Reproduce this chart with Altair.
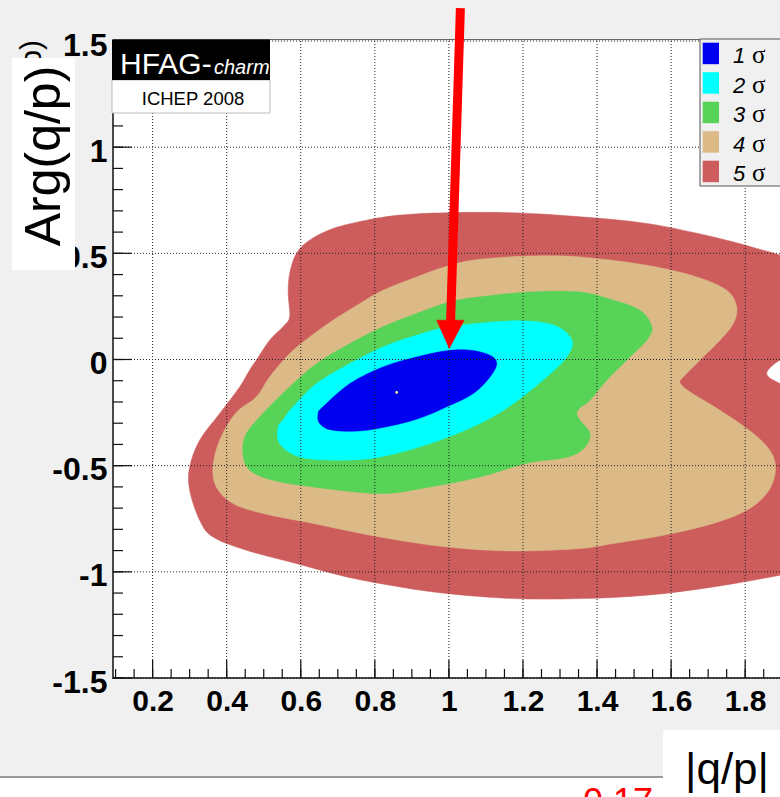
import altair as alt
import pandas as pd

# ---------------- data ----------------
# confidence-region contours (|q/p|, Arg(q/p)), outermost first
s5_x = [0.570, 0.566, 0.570, 0.588, 0.624, 0.687, 0.778, 0.868, 0.994, 1.174, 1.354, 1.534, 1.714, 1.848,
        1.894, 1.948, 1.975, 1.948, 1.894, 1.858, 1.894, 1.948, 1.975, 1.948, 1.894, 1.714, 1.534, 1.354,
        1.174, 0.994, 0.868, 0.724, 0.588, 0.453, 0.363, 0.327, 0.300, 0.300, 0.327, 0.381, 0.435, 0.462,
        0.480, 0.516, 0.552]
s5_y = [0.201, 0.311, 0.405, 0.499, 0.562, 0.617, 0.656, 0.680, 0.691, 0.691, 0.672, 0.641, 0.577, 0.515,
        0.491, 0.444, 0.279, 0.020, -0.003, -0.066, -0.113, -0.145, -0.663, -0.992, -1.016, -1.071, -1.110, -1.126,
        -1.126, -1.102, -1.071, -1.024, -0.961, -0.898, -0.836, -0.757, -0.616, -0.506, -0.380, -0.254, -0.129, -0.050,
        -0.003, 0.091, 0.154]

s4_x = [0.363, 0.381, 0.424, 0.480, 0.516, 0.570, 0.624, 0.687, 0.760, 0.822, 0.913, 1.003, 1.084, 1.219,
        1.354, 1.534, 1.669, 1.750, 1.777, 1.768, 1.732, 1.678, 1.633, 1.624, 1.651, 1.732, 1.822, 1.872,
        1.881, 1.858, 1.804, 1.714, 1.579, 1.444, 1.354, 1.174, 0.994, 0.814, 0.633, 0.498, 0.417, 0.372]
s4_y = [-0.506, -0.380, -0.253, -0.176, -0.082, 0.028, 0.106, 0.185, 0.264, 0.326, 0.389, 0.444, 0.472, 0.487,
        0.483, 0.444, 0.389, 0.326, 0.248, 0.170, 0.091, -0.003, -0.082, -0.110, -0.153, -0.239, -0.349, -0.443,
        -0.537, -0.631, -0.710, -0.772, -0.828, -0.867, -0.890, -0.902, -0.883, -0.836, -0.772, -0.725, -0.678, -0.600]

s3_x = [0.444, 0.453, 0.506, 0.570, 0.643, 0.733, 0.822, 0.913, 1.003, 1.084, 1.219, 1.354, 1.444, 1.516,
        1.548, 1.534, 1.489, 1.426, 1.381, 1.356, 1.345, 1.356, 1.381, 1.367, 1.322, 1.229, 1.174, 1.084,
        0.949, 0.814, 0.633, 0.525, 0.462]
s3_y = [-0.443, -0.349, -0.239, -0.129, -0.019, 0.075, 0.154, 0.217, 0.271, 0.295, 0.318, 0.318, 0.279, 0.232,
        0.154, 0.091, 0.012, -0.098, -0.192, -0.225, -0.254, -0.290, -0.349, -0.413, -0.459, -0.482, -0.506, -0.553,
        -0.600, -0.631, -0.600, -0.569, -0.521]

s2_x = [0.539, 0.552, 0.579, 0.643, 0.733, 0.822, 0.913, 1.003, 1.174, 1.282, 1.332, 1.318, 1.264, 1.174,
        1.084, 0.949, 0.814, 0.705, 0.597, 0.543]
s2_y = [-0.317, -0.286, -0.223, -0.113, -0.019, 0.059, 0.114, 0.154, 0.182, 0.162, 0.091, 0.012, -0.082, -0.207,
        -0.301, -0.396, -0.459, -0.474, -0.459, -0.396]

s1_x = [0.647, 0.660, 0.733, 0.822, 0.913, 0.994, 1.057, 1.111, 1.129, 1.111, 1.066, 0.994, 0.904, 0.778,
        0.687, 0.651]
s1_y = [-0.254, -0.223, -0.113, -0.035, 0.012, 0.041, 0.044, 0.020, -0.019, -0.082, -0.160, -0.223, -0.286, -0.333,
        -0.333, -0.301]

best_x = [0.859]
best_y = [-0.155]

# red arrow: shaft start/end and head triangle
arrow_x = [1.031]
arrow_y = [1.655]
arrow_x2 = [1.004]
arrow_y2 = [0.15]
head_x = [0.967, 1.041, 1.001]
head_y = [0.185, 0.185, 0.052]

levels = ["1", "2", "3", "4", "5"]
level_colors = ["#0000f0", "#00ffff", "#57d357", "#dcba87", "#cd5c5c"]

x_major = [0.2, 0.4, 0.6, 0.8, 1.0, 1.2, 1.4, 1.6, 1.8]
x_minor = [0.1, 0.15, 0.2, 0.25, 0.3, 0.35, 0.4, 0.45, 0.5, 0.55, 0.6, 0.65, 0.7, 0.75, 0.8, 0.85, 0.9,
           0.95, 1.0, 1.05, 1.1, 1.15, 1.2, 1.25, 1.3, 1.35, 1.4, 1.45, 1.5, 1.55, 1.6, 1.65, 1.7, 1.75,
           1.8, 1.85]
y_major = [-1.5, -1.0, -0.5, 0.0, 0.5, 1.0, 1.5]
y_minor = [-1.5, -1.4, -1.3, -1.2, -1.1, -1.0, -0.9, -0.8, -0.7, -0.6, -0.5, -0.4, -0.3, -0.2, -0.1, 0.0,
           0.1, 0.2, 0.3, 0.4, 0.5, 0.6, 0.7, 0.8, 0.9, 1.0, 1.1, 1.2, 1.3, 1.4, 1.5]

# ---------------- chart ----------------
W, H = 667, 637
FONT = "Liberation Sans"
xs = alt.Scale(domain=[0.093, 1.894], nice=False, zero=False)
ys = alt.Scale(domain=[-1.5, 1.5], nice=False, zero=False)
one = pd.DataFrame({"k": [0]})

XA = alt.Axis(values=x_major, labelExpr="datum.value + ''", ticks=False, domain=False, grid=False,
              title=None, labelFont=FONT, labelFontSize=30, labelFontWeight="bold", labelColor="black",
              labelPadding=8, labelFlush=False, labelOverlap=False, labelBound=False)
YA = alt.Axis(values=y_major, labelExpr="datum.value + ''", ticks=False, domain=False, grid=False,
              title=None, labelFont=FONT, labelFontSize=32, labelFontWeight="bold", labelColor="black",
              labelPadding=6, labelOffset=4, labelFlush=False, labelOverlap=False, labelBound=False)


def X(field="x:Q"):
    return alt.X(field, scale=xs, axis=XA)


def Y(field="y:Q"):
    return alt.Y(field, scale=ys, axis=YA)


def poly(xv, yv, color, interp="cardinal-closed", clip=True):
    df = pd.DataFrame({"x": xv, "y": yv, "i": list(range(len(xv)))})
    return alt.Chart(df).mark_line(interpolate=interp, fill=color, stroke=color, strokeWidth=0.5,
                                   clip=clip).encode(x=X(), y=Y(), order=alt.Order("i:Q"))


def txt(s, x, y, size, color="black", align="left", baseline="alphabetic", font=FONT,
        style="normal", weight="normal", angle=0):
    return alt.Chart(one).mark_text(text=s, align=align, baseline=baseline, font=font, fontSize=size,
                                    fontStyle=style, fontWeight=weight, color=color, angle=angle).encode(
        x=alt.value(x), y=alt.value(y))


def box(x1, x2, y1, y2, fill, stroke="", sw=0):
    kw = dict(fill=fill)
    if stroke:
        kw.update(stroke=stroke, strokeWidth=sw)
    else:
        kw.update(strokeWidth=0)
    return alt.Chart(one).mark_rect(**kw).encode(
        x=alt.value(x1), x2=alt.value(x2), y=alt.value(y1), y2=alt.value(y2))


def hline(x1, x2, y, color, w):
    return alt.Chart(one).mark_rule(color=color, strokeWidth=w).encode(
        x=alt.value(x1), x2=alt.value(x2), y=alt.value(y))


def vline(x, y1, y2, color, w):
    return alt.Chart(one).mark_rule(color=color, strokeWidth=w).encode(
        x=alt.value(x), y=alt.value(y1), y2=alt.value(y2))


layers = []
# contours
layers.append(poly(s5_x, s5_y, level_colors[4]))
layers.append(poly(s4_x, s4_y, level_colors[3]))
layers.append(poly(s3_x, s3_y, level_colors[2]))
layers.append(poly(s2_x, s2_y, level_colors[1]))
layers.append(poly(s1_x, s1_y, level_colors[0]))

# best fit point
layers.append(alt.Chart(pd.DataFrame({"x": best_x, "y": best_y})).mark_circle(
    size=7, color="#ffff99", opacity=1).encode(x=X(), y=Y()))

# grid (dotted)
layers.append(alt.Chart(pd.DataFrame({"x": x_major})).mark_rule(
    color="#222222", strokeWidth=1, strokeDash=[1, 2]).encode(x=X(), y=alt.value(0), y2=alt.value(H)))
layers.append(alt.Chart(pd.DataFrame({"y": y_major})).mark_rule(
    color="#222222", strokeWidth=1, strokeDash=[1, 2]).encode(y=Y(), x=alt.value(0), x2=alt.value(W)))

# ticks (inside the frame)
layers.append(alt.Chart(pd.DataFrame({"x": x_minor})).mark_rule(color="#111111", strokeWidth=1.2).encode(
    x=X(), y=alt.value(H), y2=alt.value(H - 9)))
layers.append(alt.Chart(pd.DataFrame({"x": x_major})).mark_rule(color="#111111", strokeWidth=1.2).encode(
    x=X(), y=alt.value(H), y2=alt.value(H - 18)))
layers.append(alt.Chart(pd.DataFrame({"y": y_minor})).mark_rule(color="#111111", strokeWidth=1.2).encode(
    y=Y(), x=alt.value(0), x2=alt.value(10)))
layers.append(alt.Chart(pd.DataFrame({"y": y_major})).mark_rule(color="#111111", strokeWidth=1.2).encode(
    y=Y(), x=alt.value(0), x2=alt.value(19)))

# frame
layers.append(vline(0, 0, H + 1, "#111111", 1.5))
layers.append(hline(0, W, H, "#111111", 1.5))
layers.append(hline(0, W, -1.5, "#666666", 1))

# legend
layers.append(box(587, 720, -2, 145, "#f0f0f0", "#555555", 1))
for i, (lab, col) in enumerate(zip(levels, level_colors)):
    top = 1.7 + 29.5 * i
    layers.append(box(589.7, 606, top, top + 21.5, col))
    layers.append(txt(lab, 620, top + 20.6, 22, style="italic"))
    layers.append(txt("σ", 639, top + 20.6, 25, font="Liberation Serif"))

# HFAG-charm label
layers.append(box(-1, 157, 39, 72, "white", "#bbbbbb", 1))
layers.append(box(-1, 157, -1.5, 39, "black"))
layers.append(txt("HFAG-", 7, 33, 30, color="white"))
layers.append(txt("charm", 101, 33, 20, color="white", style="italic"))
layers.append(txt("ICHEP 2008", 80, 64, 18.5, align="center"))

# red arrow
layers.append(alt.Chart(pd.DataFrame({"x": arrow_x, "y": arrow_y, "x2": arrow_x2, "y2": arrow_y2})).mark_rule(
    color="#ff0000", strokeWidth=9, clip=False).encode(x=X(), y=Y(), x2="x2:Q", y2="y2:Q"))
layers.append(poly(head_x, head_y, "#ff0000", interp="linear-closed", clip=False))

# y-axis title (pasted over the original one)
layers.append(txt("Arg(q/p)", -81, -1, 30, align="right", baseline="middle", angle=270))
layers.append(box(-101, -38, 17, 229, "white"))
layers.append(txt("Arg(q/p)", -68, 115, 50, align="center", baseline="middle", angle=270))

# bottom strip, x-axis title and cut-off value
layers.append(box(-113, 667, 736, 760, "white"))
layers.append(hline(-113, 550, 736, "#9a9a9a", 2))
layers.append(box(550, 667, 689, 760, "white"))
layers.append(txt("|q/p|", 614, 743, 44, align="center"))
layers.append(txt("0.17", 470, 773, 36, color="#ff0000"))

chart = alt.layer(*layers).properties(
    width=W, height=H,
    autosize=alt.AutoSizeParams(type="none"),
    padding={"left": 113, "top": 41, "right": 0, "bottom": 119},
    background="#f0f0f0",
).configure_view(fill="white", strokeWidth=0)

chart.save("out.html", embed_options={"renderer": "svg", "actions": False})
